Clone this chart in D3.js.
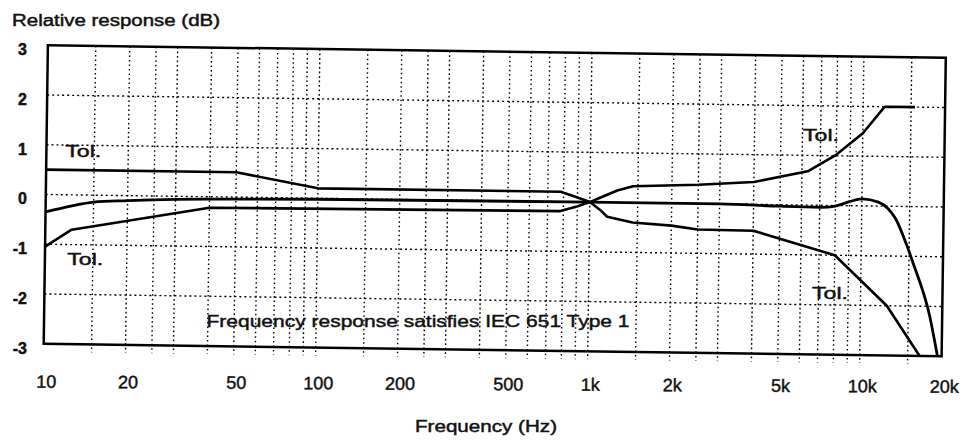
<!DOCTYPE html>
<html>
<head>
<meta charset="utf-8">
<script src="https://cdn.jsdelivr.net/npm/d3@7"></script>
<style>
  body { margin: 0; background: #fff; }
  svg { display: block; }
  text { font-family: "Liberation Sans", Arial, Helvetica, sans-serif; fill: #111; stroke: #111; stroke-width: 0.45px; }
</style>
</head>
<body>
<svg id="chart" width="964" height="441"></svg>
<script>
// Axis ticks
const tickFreqs  = [10, 20, 50, 100, 200, 500, 1000, 2000, 5000, 10000, 20000];
const tickLabels = ["10", "20", "50", "100", "200", "500", "1k", "2k", "5k", "10k", "20k"];
const dbTicks    = [3, 2, 1, 0, -1, -2, -3];

// Dotted grid: multipliers used inside each decade
const gridSteps   = [1.5, 2, 2.5, 3, 4, 5, 6, 7, 8, 9, 10];
const gridDecades = [10, 100, 1000];
const gridTop     = [15000];

// Upper tolerance limit
const upperFreq = [10, 50, 100, 780, 890, 1000, 1090, 1260, 1440, 2500, 4000, 6300, 8000, 10000, 12000, 15500];
const upperDb   = [0.5, 0.5, 0.2, 0.2, 0.1, 0, 0.09, 0.24, 0.33, 0.38, 0.45, 0.68, 1.02, 1.46, 2.0, 2.0];

// Lower tolerance limit
const lowerFreq = [10, 12.5, 40, 780, 890, 1000, 1090, 1160, 1440, 2000, 2500, 4000, 8000, 12500, 16600];
const lowerDb   = [-1.05, -0.7, -0.22, -0.19, -0.1, 0, -0.15, -0.29, -0.4, -0.45, -0.52, -0.53, -1.0, -2.0, -3.0];

// Measured frequency response
const respFreq = [10, 12.5, 15, 20, 30, 50, 100, 1000, 3000, 5000, 7000, 8000, 9000, 10000, 11500, 12500, 13300, 14700, 15500, 18000, 19300];
const respDb   = [-0.35, -0.22, -0.14, -0.1, -0.06, -0.04, -0.02, 0, 0, -0.03, -0.04, -0.01, 0.08, 0.14, 0.08, -0.05, -0.24, -0.78, -1.12, -2.2, -3.0];

// Annotations
const tolNotes = [
  { f: 11.8, db: 0.88 },
  { f: 12.0, db: -1.29 },
  { f: 6080, db: 1.2 },
  { f: 6560, db: -1.975 }
];
const noteText = "Frequency response satisfies IEC 651 Type 1";

const svg = d3.select("#chart");
const plotLeft = 45.75, plotRight = 943.75, plotTop = 51.5, plotBottom = 350;

const x = d3.scaleLog().domain([10, 20000]).range([plotLeft, plotRight]);
const y = d3.scaleLinear().domain([-3, 3]).range([plotBottom, plotTop]);

// Plot frame is drawn slightly tilted
const plot = svg.append("g")
  .attr("transform", `rotate(0.8, ${(plotLeft + plotRight) / 2}, ${(plotTop + plotBottom) / 2})`);

const gridFreqs = gridDecades.flatMap(d => gridSteps.map(s => s * d)).concat(gridTop)
  .filter(f => f < 20000);

plot.append("g").selectAll("line").data(gridFreqs).join("line")
  .attr("x1", d => x(d)).attr("x2", d => x(d))
  .attr("y1", plotTop).attr("y2", plotBottom + 8)
  .attr("stroke", "#000").attr("stroke-width", 1.4)
  .attr("stroke-dasharray", "1.6,2.9");

plot.append("g").selectAll("line").data(dbTicks.filter(v => v > -3 && v < 3)).join("line")
  .attr("x1", plotLeft).attr("x2", plotRight)
  .attr("y1", d => y(d)).attr("y2", d => y(d))
  .attr("stroke", "#000").attr("stroke-width", 1.4)
  .attr("stroke-dasharray", "2,3");

plot.append("rect")
  .attr("x", plotLeft).attr("y", plotTop)
  .attr("width", plotRight - plotLeft).attr("height", plotBottom - plotTop)
  .attr("fill", "none").attr("stroke", "#000").attr("stroke-width", 2.5);

const lineLinear = d3.line().x(d => x(d[0])).y(d => y(d[1]));
const lineSmooth = d3.line().x(d => x(d[0])).y(d => y(d[1])).curve(d3.curveMonotoneX);

plot.append("path")
  .datum(d3.zip(upperFreq, upperDb))
  .attr("d", lineLinear)
  .attr("fill", "none").attr("stroke", "#000").attr("stroke-width", 2.6)
  .attr("stroke-linejoin", "round");

plot.append("path")
  .datum(d3.zip(lowerFreq, lowerDb))
  .attr("d", lineLinear)
  .attr("fill", "none").attr("stroke", "#000").attr("stroke-width", 2.6)
  .attr("stroke-linejoin", "round");

plot.append("path")
  .datum(d3.zip(respFreq, respDb))
  .attr("d", lineSmooth)
  .attr("fill", "none").attr("stroke", "#000").attr("stroke-width", 2.8)
  .attr("stroke-linejoin", "round");

// Axes
const xAxis = svg.append("g")
  .attr("transform", `translate(0, 375) rotate(0.32, ${plotLeft}, 0)`)
  .call(d3.axisBottom(x).tickValues(tickFreqs)
    .tickFormat((d, i) => tickLabels[i]).tickSize(0).tickPadding(0));
xAxis.select(".domain").remove();
xAxis.selectAll("text")
  .style("font-family", '"Liberation Sans", Arial, sans-serif')
  .style("font-size", "18px").attr("fill", "#111")
  .attr("stroke", "#111").attr("stroke-width", 0.5);

const yAxis = svg.append("g")
  .attr("transform", "translate(27, -2)")
  .call(d3.axisLeft(y).tickValues(dbTicks)
    .tickFormat(d => String(d)).tickSize(0).tickPadding(0));
yAxis.select(".domain").remove();
yAxis.selectAll("text")
  .style("font-family", '"Liberation Sans", Arial, sans-serif')
  .style("font-size", "16px").style("font-weight", "bold").attr("fill", "#111")
  .attr("stroke", "none");

// Titles and notes
svg.append("text")
  .attr("x", 12).attr("y", 26)
  .attr("font-size", 16)
  .attr("textLength", 208).attr("lengthAdjust", "spacingAndGlyphs")
  .text("Relative response (dB)");

svg.append("text")
  .attr("x", 415).attr("y", 432)
  .attr("font-size", 17)
  .attr("textLength", 142).attr("lengthAdjust", "spacingAndGlyphs")
  .text("Frequency (Hz)");

svg.append("text")
  .attr("x", x(39)).attr("y", y(-2.54))
  .attr("font-size", 17)
  .attr("textLength", 423).attr("lengthAdjust", "spacingAndGlyphs")
  .text(noteText);

svg.append("g").selectAll("text").data(tolNotes).join("text")
  .attr("x", d => x(d.f)).attr("y", d => y(d.db))
  .attr("font-size", 17)
  .attr("textLength", 36).attr("lengthAdjust", "spacingAndGlyphs")
  .text("Tol.");
</script>
</body>
</html>
